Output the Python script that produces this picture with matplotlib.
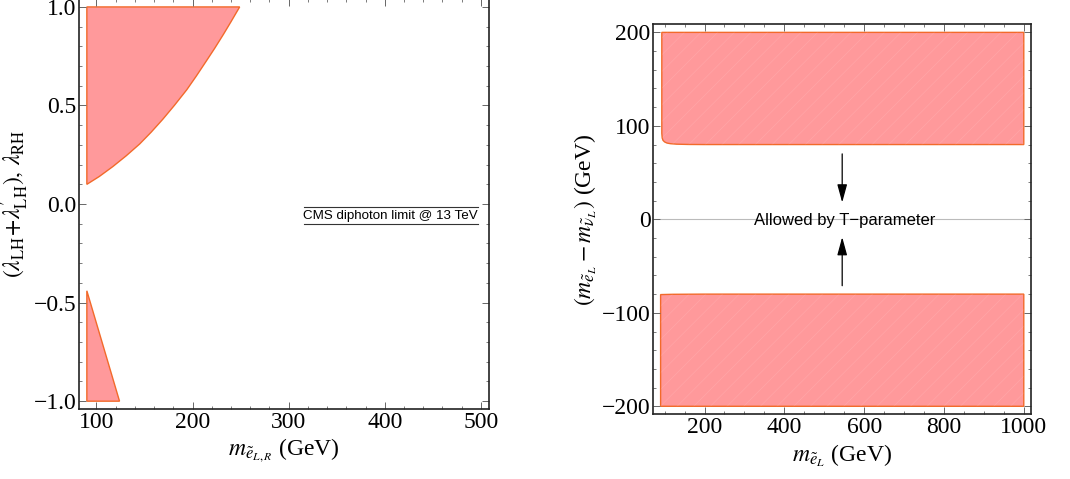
import numpy as np
import matplotlib
matplotlib.use("Agg")
import matplotlib.pyplot as plt
from matplotlib.ticker import MultipleLocator

plt.rcParams["font.family"] = "Liberation Serif"
plt.rcParams["mathtext.fontset"] = "stix"
plt.rcParams["hatch.linewidth"] = 0.5

# left panel: allowed regions
upper_x = [90, 103, 117, 131, 145, 157, 169, 181, 194, 204, 214.5, 223, 232, 240, 249]
upper_y = [0.10, 0.14, 0.19, 0.245, 0.305, 0.365, 0.43, 0.50, 0.58, 0.65, 0.727, 0.79, 0.86, 0.925, 1.00]
lower_x = [90, 107, 124]
lower_y = [-0.44, -0.72, -1.00]

# right panel: T-parameter excluded bands
top_x = [93, 93, 94, 96, 100, 106, 115, 130, 160, 200, 1000]
top_y = [200, 92, 87, 84.5, 82.8, 81.6, 80.9, 80.4, 80.1, 80, 80]
bot_x = [90, 120, 200, 1000]
bot_y = [-80.5, -80.2, -80, -80]

fill_c = "#ff999b"
edge_c = "#f26a2a"

fig = plt.figure(figsize=(10.7, 4.79), dpi=100)
ax1 = fig.add_axes([0.0738, 0.146, 0.383, 0.856])
ax2 = fig.add_axes([0.6106, 0.135, 0.353, 0.8142])

# left
px = [upper_x[0]] + upper_x
py = [1.0] + upper_y
ax1.fill(px, py, facecolor=fill_c, edgecolor=edge_c, lw=1.0)
px = [lower_x[0]] + lower_x
py = [-1.0] + lower_y
ax1.fill(px, py, facecolor=fill_c, edgecolor=edge_c, lw=1.0)

ax1.set_xlim(81.8, 508.2)
ax1.set_ylim(-1.04, 1.04)
ax1.xaxis.set_major_locator(MultipleLocator(100))
ax1.xaxis.set_minor_locator(MultipleLocator(20))
ax1.yaxis.set_minor_locator(MultipleLocator(0.1))
ax1.set_yticks([-1.0, -0.5, 0.0, 0.5, 1.0])
ax1.set_yticklabels(["\u22121.0", "\u22120.5", "0.0", "0.5", "1.0"])
ax1.set_xlabel(r"$m_{\tilde{e}_{L,R}}$ (GeV)", fontsize=17, labelpad=3)
ax1.set_ylabel(r"$(\lambda_{\rm LH}\!+\!\lambda^{\prime}_{\rm LH}),\,\lambda_{\rm RH}$",
               fontsize=17, labelpad=2)

# legend-like label
ax1.plot([316, 497], [-0.013, -0.013], color="#333333", lw=0.8)
ax1.plot([316, 497], [-0.102, -0.102], color="#333333", lw=0.8)
ax1.text(406, -0.062, "CMS diphoton limit @ 13 TeV", fontsize=9.6,
         family="Liberation Sans", ha="center", va="center")

# right
ax2.axhline(0, color="#bbbbbb", lw=0.8, zorder=0)
px = top_x + [1000]
py = top_y + [200]
ax2.fill(px, py, facecolor=fill_c, edgecolor=edge_c, lw=1.0)
ax2.fill(px, py, facecolor="none", edgecolor=(1, 1, 1, 0.12), hatch="//", lw=0)
px = bot_x + [1000, 90]
py = bot_y + [-200, -200]
ax2.fill(px, py, facecolor=fill_c, edgecolor=edge_c, lw=1.0)
ax2.fill(px, py, facecolor="none", edgecolor=(1, 1, 1, 0.12), hatch="//", lw=0)

arrow = dict(arrowstyle="-|>,head_length=1.1,head_width=0.3", color="black", lw=0.9,
             shrinkA=0, shrinkB=0)
ax2.annotate("", xy=(545, 18), xytext=(545, 70), arrowprops=arrow)
ax2.annotate("", xy=(545, -19), xytext=(545, -71), arrowprops=arrow)
ax2.text(550, -1, "Allowed by T\u2212parameter", fontsize=12,
         family="Liberation Sans", ha="center", va="center")

ax2.set_xlim(71.8, 1018.2)
ax2.set_ylim(-208.6, 208.6)
ax2.xaxis.set_major_locator(MultipleLocator(200))
ax2.xaxis.set_minor_locator(MultipleLocator(50))
ax2.yaxis.set_minor_locator(MultipleLocator(20))
ax2.set_yticks([-200, -100, 0, 100, 200])
ax2.set_yticklabels(["\u2212200", "\u2212100", "0", "100", "200"])
ax2.set_xlabel(r"$m_{\tilde{e}_L}$ (GeV)", fontsize=17, labelpad=3)
ax2.set_ylabel(r"$(m_{\tilde{e}_L}-m_{\tilde{\nu}_L})$ (GeV)", fontsize=17, labelpad=2)

for ax in (ax1, ax2):
    ax.tick_params(which="both", direction="in", top=True, right=True,
                   labelsize=17, color="#666666", pad=2)
    ax.tick_params(which="major", length=5, width=0.7)
    ax.tick_params(which="minor", length=2.5, width=0.6)
    for s in ax.spines.values():
        s.set_linewidth(1.2)
        s.set_color("#222222")

fig.savefig("out.png", dpi=100)
